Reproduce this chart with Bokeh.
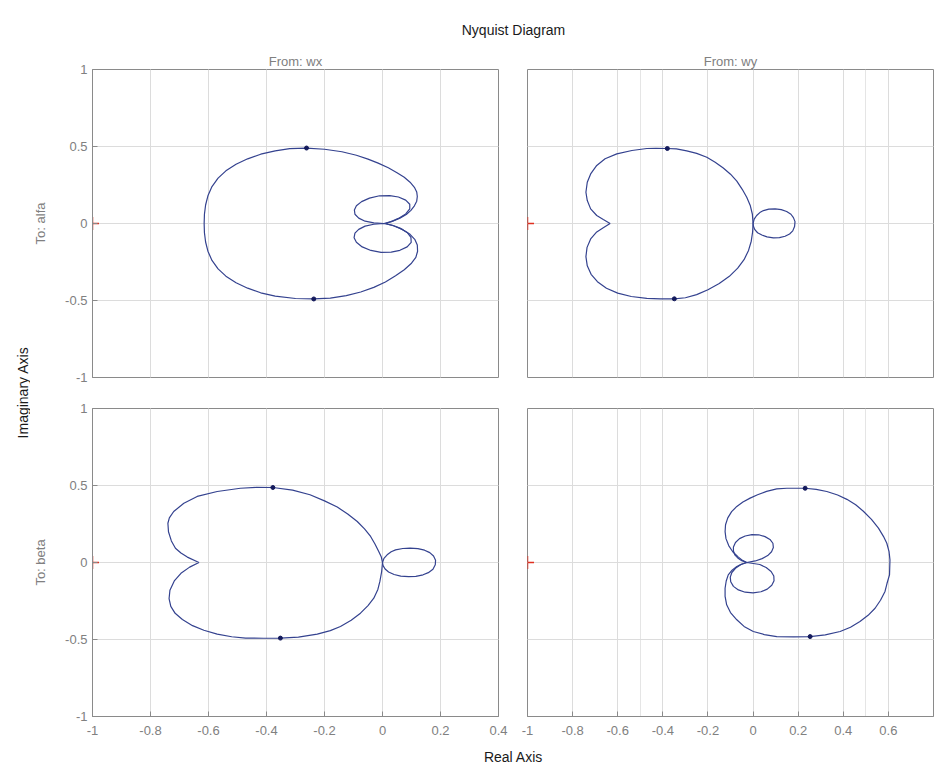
from math import pi

from bokeh.plotting import figure
from bokeh.models import Range1d, LinearAxis, FixedTicker, Label, Grid
from bokeh.layouts import row, column
from bokeh.embed import file_html
from bokeh.resources import INLINE

FONT = "Liberation Sans"
GREY = "#808080"
DARK = "#1a1a1a"
CURVE = "#34428f"
AXIS = "#8a8a8a"
GRID = "#dcdcdc"

# ---------------------------------------------------------------------------
# Nyquist curves (real / imaginary parts), one block per input-output pair
# ---------------------------------------------------------------------------

# To: alfa, From: wx -- outer contour
alfa_wx_outer_re = [0.01, 0.035, 0.06, 0.082, 0.098, 0.11, 0.118, 0.12, 0.118, 0.11, 0.095,
                    0.075, 0.05, 0.02, -0.015, -0.05, -0.09, -0.14, -0.2, -0.262, -0.32,
                    -0.37, -0.42, -0.465, -0.505, -0.54, -0.567, -0.588, -0.602, -0.61,
                    -0.614, -0.615,
                    -0.614, -0.61, -0.602, -0.588, -0.567, -0.54, -0.505, -0.465, -0.42,
                    -0.37, -0.3, -0.237, -0.18, -0.125, -0.075, -0.03, 0.01, 0.045, 0.075,
                    0.1, 0.115, 0.121, 0.12, 0.112, 0.095, 0.07, 0.04, 0.01]
alfa_wx_outer_im = [0.0, 0.015, 0.035, 0.058, 0.085, 0.115, 0.145, 0.175, 0.205, 0.235, 0.268,
                    0.3, 0.33, 0.362, 0.392, 0.418, 0.443, 0.466, 0.482, 0.49, 0.486,
                    0.472, 0.45, 0.42, 0.385, 0.342, 0.295, 0.24, 0.18, 0.12,
                    0.06, 0.0,
                    -0.06, -0.12, -0.18, -0.24, -0.295, -0.342, -0.385, -0.42, -0.45,
                    -0.472, -0.487, -0.49, -0.484, -0.468, -0.445, -0.415, -0.38, -0.34, -0.3,
                    -0.258, -0.22, -0.18, -0.14, -0.105, -0.07, -0.04, -0.016, 0.0]
# To: alfa, From: wx -- inner loops around the origin
alfa_wx_loop_up_re = [0.005, -0.03, -0.06, -0.082, -0.095, -0.097, -0.09, -0.072, -0.045, -0.01,
                      0.025, 0.055, 0.08, 0.094, 0.094, 0.08, 0.055, 0.03, 0.005]
alfa_wx_loop_up_im = [0.0, 0.004, 0.015, 0.035, 0.06, 0.088, 0.115, 0.142, 0.165, 0.18,
                      0.181, 0.172, 0.152, 0.125, 0.095, 0.062, 0.033, 0.012, 0.0]
alfa_wx_loop_dn_re = [0.005, -0.03, -0.06, -0.082, -0.095, -0.098, -0.09, -0.07, -0.04, -0.005,
                      0.03, 0.06, 0.085, 0.099, 0.098, 0.085, 0.06, 0.032, 0.005]
alfa_wx_loop_dn_im = [0.0, -0.005, -0.017, -0.038, -0.063, -0.092, -0.122, -0.152, -0.175, -0.187,
                      -0.186, -0.174, -0.152, -0.122, -0.09, -0.058, -0.03, -0.01, 0.0]
alfa_wx_arrow_re = [-0.262, -0.237]
alfa_wx_arrow_im = [0.49, -0.49]

# To: alfa, From: wy -- outer contour
alfa_wy_outer_re = [0.0, -0.003, -0.012, -0.028, -0.048, -0.072, -0.1, -0.132, -0.168, -0.205,
                    -0.25, -0.294, -0.34, -0.38, -0.43, -0.471, -0.537, -0.604, -0.656, -0.693,
                    -0.72, -0.735, -0.741, -0.735, -0.72, -0.693, -0.664, -0.634,
                    -0.664, -0.693, -0.72, -0.736, -0.741, -0.735, -0.718, -0.69, -0.65, -0.6,
                    -0.54, -0.471, -0.41, -0.349, -0.3, -0.25, -0.2, -0.15, -0.105, -0.068,
                    -0.04, -0.02, -0.008, -0.002, 0.0]
alfa_wy_outer_im = [0.0, 0.06, 0.115, 0.17, 0.222, 0.275, 0.32, 0.36, 0.398, 0.43,
                    0.455, 0.472, 0.484, 0.487, 0.488, 0.487, 0.474, 0.452, 0.42, 0.377,
                    0.322, 0.268, 0.203, 0.149, 0.095, 0.052, 0.026, 0.0,
                    -0.028, -0.055, -0.1, -0.155, -0.215, -0.275, -0.33, -0.378, -0.42, -0.452,
                    -0.474, -0.486, -0.49, -0.489, -0.482, -0.462, -0.43, -0.39, -0.343, -0.29,
                    -0.235, -0.175, -0.115, -0.055, 0.0]
# To: alfa, From: wy -- small loop to the right of the origin
alfa_wy_loop_re = [0.0, 0.005, 0.016, 0.03, 0.046, 0.07, 0.098, 0.125, 0.149, 0.168, 0.179,
                   0.186, 0.184, 0.176, 0.162, 0.142, 0.117, 0.09, 0.062, 0.039, 0.02, 0.008,
                   0.002, 0.0]
alfa_wy_loop_im = [0.0, 0.028, 0.052, 0.071, 0.084, 0.093, 0.095, 0.09, 0.078, 0.06, 0.038,
                   0.012, -0.02, -0.048, -0.068, -0.083, -0.092, -0.093, -0.087, -0.075, -0.06,
                   -0.04, -0.02, 0.0]
alfa_wy_arrow_re = [-0.38, -0.349]
alfa_wy_arrow_im = [0.487, -0.489]

# To: beta, From: wx -- outer contour
beta_wx_outer_re = [0.0, -0.004, -0.013, -0.026, -0.041, -0.062, -0.087, -0.12, -0.156, -0.2,
                    -0.25, -0.31, -0.378, -0.435, -0.49, -0.57, -0.639, -0.685, -0.72, -0.735,
                    -0.74, -0.738, -0.728, -0.714, -0.695, -0.673, -0.633,
                    -0.665, -0.695, -0.718, -0.733, -0.736, -0.73, -0.715, -0.69, -0.655,
                    -0.616, -0.57, -0.52, -0.472, -0.41, -0.352, -0.29, -0.225, -0.18, -0.145,
                    -0.108, -0.076, -0.05, -0.03, -0.016, -0.009, -0.003, 0.0]
beta_wx_outer_im = [0.0, 0.035, 0.071, 0.12, 0.169, 0.218, 0.266, 0.315, 0.36, 0.4,
                    0.44, 0.47, 0.487, 0.488, 0.482, 0.461, 0.429, 0.385, 0.331, 0.29,
                    0.255, 0.2, 0.14, 0.093, 0.062, 0.035, 0.0,
                    -0.03, -0.07, -0.12, -0.18, -0.235, -0.285, -0.33, -0.37, -0.41,
                    -0.44, -0.465, -0.482, -0.491, -0.492, -0.491, -0.484, -0.465, -0.442, -0.416,
                    -0.375, -0.329, -0.28, -0.232, -0.175, -0.123, -0.06, 0.0]
# To: beta, From: wx -- small loop to the right of the origin
beta_wx_loop_re = [0.0, 0.005, 0.016, 0.03, 0.045, 0.07, 0.095, 0.122, 0.145, 0.163, 0.176,
                   0.183, 0.182, 0.174, 0.158, 0.14, 0.115, 0.09, 0.063, 0.04, 0.021, 0.009,
                   0.002, 0.0]
beta_wx_loop_im = [0.0, 0.027, 0.05, 0.07, 0.082, 0.091, 0.093, 0.09, 0.08, 0.064, 0.042,
                   0.015, -0.015, -0.044, -0.066, -0.08, -0.09, -0.092, -0.088, -0.078, -0.062,
                   -0.042, -0.02, 0.0]
beta_wx_arrow_re = [-0.378, -0.352]
beta_wx_arrow_im = [0.487, -0.491]

# To: beta, From: wy -- outer contour
beta_wy_outer_re = [-0.028, -0.045, -0.065, -0.09, -0.108, -0.12, -0.124, -0.122, -0.112, -0.095,
                    -0.072, -0.045, -0.013, 0.02, 0.06, 0.105, 0.15, 0.231, 0.28, 0.327,
                    0.375, 0.416, 0.455, 0.489, 0.525, 0.556, 0.578, 0.593, 0.603, 0.607,
                    0.605, 0.594, 0.585, 0.565, 0.541, 0.51, 0.474, 0.432, 0.386, 0.32,
                    0.253, 0.18, 0.105, 0.05, 0.001, -0.04, -0.072, -0.1, -0.117, -0.124,
                    -0.124, -0.119, -0.11, -0.093, -0.072, -0.05, -0.028]
beta_wy_outer_im = [0.0, 0.012, 0.035, 0.07, 0.11, 0.155, 0.2, 0.245, 0.29, 0.33,
                    0.364, 0.393, 0.418, 0.44, 0.462, 0.478, 0.482, 0.482, 0.475, 0.461,
                    0.438, 0.41, 0.375, 0.333, 0.28, 0.223, 0.17, 0.125, 0.07, 0.017,
                    -0.08, -0.135, -0.188, -0.245, -0.297, -0.343, -0.383, -0.42, -0.448, -0.47,
                    -0.481, -0.483, -0.481, -0.468, -0.448, -0.415, -0.372, -0.325, -0.275, -0.22,
                    -0.167, -0.12, -0.08, -0.05, -0.026, -0.01, 0.0]
# To: beta, From: wy -- inner loops around the origin
beta_wy_loop_up_re = [-0.028, -0.05, -0.068, -0.081, -0.087, -0.087, -0.078, -0.06, -0.035,
                      -0.005, 0.025, 0.053, 0.075, 0.088, 0.09, 0.082, 0.065, 0.04, 0.01, -0.028]
beta_wy_loop_up_im = [0.0, 0.012, 0.03, 0.05, 0.075, 0.1, 0.13, 0.155, 0.172,
                      0.181, 0.18, 0.168, 0.15, 0.125, 0.097, 0.07, 0.045, 0.025, 0.01, 0.0]
beta_wy_loop_dn_re = [-0.028, -0.055, -0.078, -0.094, -0.101, -0.099, -0.087, -0.065, -0.035,
                      0.0, 0.035, 0.063, 0.083, 0.093, 0.092, 0.08, 0.058, 0.03, -0.028]
beta_wy_loop_dn_im = [0.0, -0.015, -0.038, -0.065, -0.095, -0.125, -0.155, -0.178, -0.193,
                      -0.197, -0.19, -0.173, -0.148, -0.118, -0.088, -0.058, -0.033, -0.013, 0.0]
beta_wy_arrow_re = [0.231, 0.253]
beta_wy_arrow_im = [0.482, -0.481]

# critical point -1 + 0j
critical_re = [-1]
critical_im = [0]

# axis ticks and their labels
x_ticks_wx = [-1, -0.8, -0.6, -0.4, -0.2, 0, 0.2, 0.4]
x_labels_wx = ["-1", "-0.8", "-0.6", "-0.4", "-0.2", "0", "0.2", "0.4"]
x_ticks_wy = [-1, -0.8, -0.6, -0.4, -0.2, 0, 0.2, 0.4, 0.6]
x_labels_wy = ["-1", "-0.8", "-0.6", "-0.4", "-0.2", "0", "0.2", "0.4", "0.6"]
y_ticks = [-1, -0.5, 0, 0.5, 1]
y_labels = ["-1", "-0.5", "0", "0.5", "1"]


def labelled_axis(ticks, labels, standoff):
    ax = LinearAxis(ticker=FixedTicker(ticks=ticks))
    ax.major_label_overrides = dict(zip(ticks, labels))
    ax.axis_line_color = AXIS
    ax.major_tick_line_color = AXIS
    ax.major_tick_in = 5
    ax.major_tick_out = 0
    ax.minor_tick_line_color = None
    ax.major_label_text_font = FONT
    ax.major_label_text_font_size = "13px"
    ax.major_label_text_color = GREY
    ax.major_label_standoff = standoff
    return ax


def panel(curves, arrows, x_hi, xt, xl, title, ylabel, show_x, show_y,
          width, height, left, right, top, bottom):
    p = figure(width=width, height=height, x_range=Range1d(-1, x_hi), y_range=Range1d(-1, 1),
               output_backend="svg", toolbar_location=None,
               x_axis_location=None, y_axis_location=None,
               min_border_left=left, min_border_right=right,
               min_border_top=top, min_border_bottom=bottom,
               background_fill_color="white", border_fill_color="white")
    p.outline_line_color = AXIS

    p.add_layout(Grid(dimension=0, ticker=FixedTicker(ticks=xt), grid_line_color=GRID))
    p.add_layout(Grid(dimension=1, ticker=FixedTicker(ticks=y_ticks), grid_line_color=GRID))

    if show_x:
        p.add_layout(labelled_axis(xt, xl, 9), "below")
    if show_y:
        ax = labelled_axis(y_ticks, y_labels, 5)
        ax.axis_label = ylabel
        ax.axis_label_text_font = FONT
        ax.axis_label_text_font_size = "13px"
        ax.axis_label_text_font_style = "normal"
        ax.axis_label_text_color = GREY
        ax.axis_label_standoff = 14
        p.add_layout(ax, "left")

    if title:
        p.title.text = title
        p.title.align = "center"
        p.title.text_font = FONT
        p.title.text_font_size = "13px"
        p.title.text_font_style = "normal"
        p.title.text_color = GREY
        p.title.standoff = 1

    for re_vals, im_vals in curves:
        p.line(re_vals, im_vals, line_color=CURVE, line_width=1.2)
    p.scatter(arrows[0], arrows[1], marker="circle", size=4,
              fill_color="#141a5c", line_color="#141a5c")
    p.scatter(critical_re, critical_im, marker="cross", size=13,
              line_color="#e03020", line_width=1.5)
    return p


def text_canvas(width, height, x0, x1, y0, y1):
    c = figure(width=width, height=height, x_range=Range1d(x0, x1), y_range=Range1d(y1, y0),
               output_backend="svg", toolbar_location=None,
               x_axis_location=None, y_axis_location=None,
               min_border=0, min_border_left=0, min_border_right=0,
               min_border_top=0, min_border_bottom=0,
               background_fill_color="white", border_fill_color="white")
    c.outline_line_color = None
    c.grid.visible = False
    return c


tl = panel([(alfa_wx_outer_re, alfa_wx_outer_im),
            (alfa_wx_loop_up_re, alfa_wx_loop_up_im),
            (alfa_wx_loop_dn_re, alfa_wx_loop_dn_im)],
           (alfa_wx_arrow_re, alfa_wx_arrow_im), 0.4, x_ticks_wx, x_labels_wx,
           "From: wx", "To: alfa", False, True, 482, 347, 62, 14, 24, 15)
tr = panel([(alfa_wy_outer_re, alfa_wy_outer_im),
            (alfa_wy_loop_re, alfa_wy_loop_im)],
           (alfa_wy_arrow_re, alfa_wy_arrow_im), 0.8, x_ticks_wy, x_labels_wy,
           "From: wy", None, False, False, 428, 347, 15, 7, 24, 15)
bl = panel([(beta_wx_outer_re, beta_wx_outer_im),
            (beta_wx_loop_re, beta_wx_loop_im)],
           (beta_wx_arrow_re, beta_wx_arrow_im), 0.4, x_ticks_wx, x_labels_wx,
           None, "To: beta", True, True, 482, 355, 62, 14, 16, 31)
br = panel([(beta_wy_outer_re, beta_wy_outer_im),
            (beta_wy_loop_up_re, beta_wy_loop_up_im),
            (beta_wy_loop_dn_re, beta_wy_loop_dn_im)],
           (beta_wy_arrow_re, beta_wy_arrow_im), 0.8, x_ticks_wy, x_labels_wy,
           None, None, True, False, 428, 355, 15, 7, 16, 31)

# page-level texts
head = text_canvas(910, 45, 30, 940, 0, 45)
head.add_layout(Label(x=513, y=29, text="Nyquist Diagram", text_align="center",
                      text_baseline="middle", text_font=FONT, text_font_size="14px",
                      text_color=DARK))

foot = text_canvas(910, 20, 30, 940, 747, 767)
foot.add_layout(Label(x=513, y=756, text="Real Axis", text_align="center",
                      text_baseline="middle", text_font=FONT, text_font_size="14px",
                      text_color=DARK))

side = text_canvas(30, 767, 0, 30, 0, 767)
side.add_layout(Label(x=22, y=392, text="Imaginary Axis", angle=pi / 2,
                      text_align="center", text_baseline="middle", text_font=FONT,
                      text_font_size="14px", text_color=DARK))

layout = row(side, column(head, row(tl, tr), row(bl, br), foot))

with open("out.html", "w") as f:
    f.write(file_html(layout, INLINE, title="Nyquist Diagram"))
